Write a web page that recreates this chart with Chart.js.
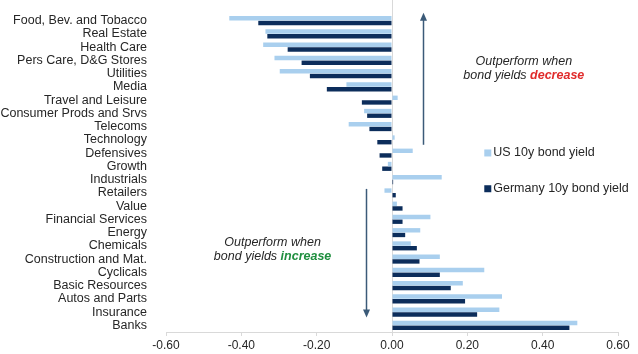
<!DOCTYPE html>
<html>
<head>
<meta charset="utf-8">
<script src="https://cdn.jsdelivr.net/npm/chart.js"></script>
<style>
  html, body { margin: 0; padding: 0; background: #fff; }
  #wrap { width: 638px; height: 354px; position: relative; }
</style>
</head>
<body>
<div id="wrap"><canvas id="sectorChart"></canvas></div>
<script>
// sectors, top to bottom
const sectors = [
    'Food, Bev. and Tobacco', 'Real Estate', 'Health Care', 'Pers Care, D&G Stores',
    'Utilities', 'Media', 'Travel and Leisure', 'Consumer Prods and Srvs', 'Telecoms',
    'Technology', 'Defensives', 'Growth', 'Industrials', 'Retailers', 'Value',
    'Financial Services', 'Energy', 'Chemicals', 'Construction and Mat.', 'Cyclicals',
    'Basic Resources', 'Autos and Parts', 'Insurance', 'Banks'
];
const usYield = [
    -0.432, -0.336, -0.342, -0.312, -0.298, -0.121, 0.015, -0.074, -0.115,
    0.007, 0.055, -0.011, 0.132, -0.020, 0.013, 0.102, 0.075, 0.050, 0.127,
    0.245, 0.188, 0.292, 0.285, 0.492
];
const deYield = [
    -0.355, -0.331, -0.277, -0.240, -0.218, -0.173, -0.080, -0.066, -0.060,
    -0.039, -0.033, -0.026, 0.003, 0.010, 0.028, 0.028, 0.035, 0.066, 0.073,
    0.127, 0.156, 0.194, 0.226, 0.471
];
const xTicks = [-0.6, -0.4, -0.2, 0, 0.2, 0.4, 0.6];

const lightBlue = '#a9cfee';
const navy = '#0c2d5b';
const arrowColor = '#3b5a78';
const textColor = '#262626';
const fontFam = '"Liberation Sans", Arial, sans-serif';

// arrows, notes and legend drawn on top of the bars
const notesPlugin = {
    id: 'notes',
    beforeDatasetsDraw(chart) {
        const { ctx, scales: { x }, chartArea } = chart;
        ctx.save();
        ctx.strokeStyle = '#d9d9d9';
        ctx.lineWidth = 1;
        const zx = Math.round(x.getPixelForValue(0)) + 0.5;
        ctx.beginPath();
        ctx.moveTo(zx, 0);
        ctx.lineTo(zx, chartArea.bottom);
        ctx.stroke();
        ctx.restore();
    },
    afterDraw(chart) {
        const { ctx, scales: { x, y } } = chart;
        ctx.save();

        function arrow(xv, fromIdx, toIdx) {
            const px = Math.round(x.getPixelForValue(xv)) + 0.5;
            const y1 = y.getPixelForValue(fromIdx);
            const y2 = y.getPixelForValue(toIdx);
            const dir = y2 < y1 ? -1 : 1;
            ctx.strokeStyle = arrowColor;
            ctx.fillStyle = arrowColor;
            ctx.lineWidth = 1.5;
            ctx.beginPath();
            ctx.moveTo(px, y1);
            ctx.lineTo(px, y2 - dir * 6);
            ctx.stroke();
            ctx.beginPath();
            ctx.moveTo(px, y2);
            ctx.lineTo(px - 3.5, y2 - dir * 8);
            ctx.lineTo(px + 3.5, y2 - dir * 8);
            ctx.closePath();
            ctx.fill();
        }
        arrow(0.0815, 9.37, -0.6);
        arrow(-0.069, 12.7, 22.4);

        function note(xv, idx, word, color) {
            const cx = x.getPixelForValue(xv);
            const cy = y.getPixelForValue(idx);
            const reg = 'italic 12.5px ' + fontFam;
            const bold = 'italic bold 12.5px ' + fontFam;
            ctx.textBaseline = 'middle';
            ctx.textAlign = 'center';
            ctx.fillStyle = textColor;
            ctx.font = reg;
            ctx.fillText('Outperform when', cx, cy);
            const a = 'bond yields ';
            const wa = ctx.measureText(a).width;
            ctx.font = bold;
            const wb = ctx.measureText(word).width;
            const left = cx - (wa + wb) / 2;
            ctx.textAlign = 'left';
            ctx.font = reg;
            ctx.fillText(a, left, cy + 14);
            ctx.font = bold;
            ctx.fillStyle = color;
            ctx.fillText(word, left + wa, cy + 14);
        }
        note(0.35, 3.1, 'decrease', '#e02b2b');
        note(-0.317, 16.75, 'increase', '#1f8f3f');

        // legend
        const lx = x.getPixelForValue(0.245);
        const items = [['US 10y bond yield', lightBlue, 9.95], ['Germany 10y bond yield', navy, 12.65]];
        ctx.font = '12.5px ' + fontFam;
        ctx.textAlign = 'left';
        ctx.textBaseline = 'middle';
        items.forEach(([label, color, idx]) => {
            const ly = y.getPixelForValue(idx);
            ctx.fillStyle = color;
            ctx.fillRect(lx, ly - 3, 7, 7);
            ctx.fillStyle = textColor;
            ctx.fillText(label, lx + 9, ly);
        });
        ctx.restore();
    }
};

new Chart(document.getElementById('sectorChart'), {
    type: 'bar',
    data: {
        labels: sectors,
        datasets: [
            { label: 'US 10y bond yield', data: usYield, backgroundColor: lightBlue },
            { label: 'Germany 10y bond yield', data: deYield, backgroundColor: navy }
        ]
    },
    options: {
        indexAxis: 'y',
        responsive: true,
        maintainAspectRatio: false,
        animation: false,
        datasets: { bar: { categoryPercentage: 0.7, barPercentage: 0.95 } },
        layout: { padding: { top: 14, right: 20, bottom: 0, left: 0 } },
        plugins: {
            legend: { display: false },
            tooltip: { enabled: false }
        },
        scales: {
            x: {
                min: -0.6,
                max: 0.6,
                afterFit: s => { s.height = 22; },
                afterBuildTicks: s => { s.ticks = xTicks.map(v => ({ value: v })); },
                ticks: {
                    color: textColor,
                    font: { family: fontFam, size: 12 },
                    padding: 2,
                    maxRotation: 0,
                    callback: v => Number(v).toFixed(2)
                },
                grid: { drawOnChartArea: false, tickLength: 4, tickColor: '#d9d9d9' },
                border: { color: '#d9d9d9' }
            },
            y: {
                afterFit: s => { s.width = 166; s.paddingTop = 0; s.paddingBottom = 0; },
                ticks: {
                    color: textColor,
                    font: { family: fontFam, size: 12.5 },
                    padding: 11,
                    autoSkip: false
                },
                grid: { display: false },
                border: { display: false }
            }
        }
    },
    plugins: [notesPlugin]
});
</script>
</body>
</html>
